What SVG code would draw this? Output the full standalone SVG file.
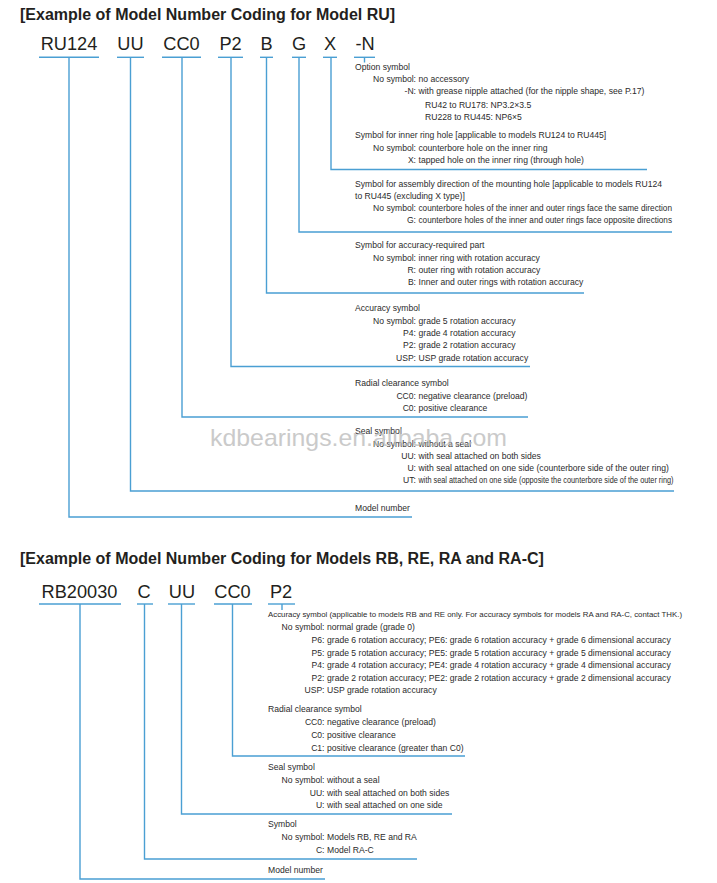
<svg xmlns="http://www.w3.org/2000/svg" width="717" height="883" viewBox="0 0 717 883">
<style>
text{font-family:"Liberation Sans",Arial,Helvetica,sans-serif}
.h{font-size:16px;font-weight:bold;fill:#231f20}
.c{font-size:18.2px;fill:#231f20;text-anchor:middle}
.t{font-size:8.6px;fill:#2b2b2b}
.e{text-anchor:end}
.u{stroke:#4a9fd3;stroke-width:1.4;fill:none}
.ln{stroke:#4a9fd3;stroke-width:1.4;fill:none}
.wm{font-size:24px;fill:#b9b9b9;opacity:0.75}
</style>
<rect width="717" height="883" fill="#ffffff"/>

<!-- ===== Section 1 ===== -->
<text id="title1" class="h" x="20" y="20">[Example of Model Number Coding for Model RU]</text>

<g id="ru-code-model"><text class="c" x="69" y="50">RU124</text><path class="u" d="M39 57.3H99"/></g>
<g id="ru-code-seal"><text class="c" x="130.5" y="50">UU</text><path class="u" d="M117 57.3H144"/></g>
<g id="ru-code-clear"><text class="c" x="181.5" y="50">CC0</text><path class="u" d="M162 57.3H201"/></g>
<g id="ru-code-acc"><text class="c" x="230.5" y="50">P2</text><path class="u" d="M218 57.3H243"/></g>
<g id="ru-code-part"><text class="c" x="266.5" y="50">B</text><path class="u" d="M260 57.3H273"/></g>
<g id="ru-code-dir"><text class="c" x="299" y="50">G</text><path class="u" d="M292 57.3H306"/></g>
<g id="ru-code-hole"><text class="c" x="330" y="50">X</text><path class="u" d="M323 57.3H337"/></g>
<g id="ru-code-opt"><text class="c" x="365" y="50">-N</text><path class="u" d="M354 57.3H375"/></g>

<g id="ru-connectors">
<path class="ln" d="M69 57.3V517H412"/>
<path class="ln" d="M130.5 57.3V491H674"/>
<path class="ln" d="M182 57.3V417H528"/>
<path class="ln" d="M231 57.3V366.5H530"/>
<path class="ln" d="M266.5 57.3V293H584"/>
<path class="ln" d="M299 57.3V232H672"/>
<path class="ln" d="M331 57.3V169.5H647"/>
<path class="ln" d="M364.5 57.3V62.5"/>
</g>

<g id="ru-desc-opt">
<text class="t" x="355" y="70">Option symbol</text>
<text class="t e" x="416" y="82">No symbol:</text><text class="t" x="418.5" y="82">no accessory</text>
<text class="t e" x="416" y="94">-N:</text><text class="t" x="418.5" y="94">with grease nipple attached (for the nipple shape, see P.17)</text>
<text class="t" x="425" y="107.5">RU42 to RU178: NP3.2×3.5</text>
<text class="t" x="425" y="119.5">RU228 to RU445: NP6×5</text>
</g>
<g id="ru-desc-hole">
<text class="t" x="355" y="138">Symbol for inner ring hole [applicable to models RU124 to RU445]</text>
<text class="t e" x="416" y="151">No symbol:</text><text class="t" x="418.5" y="151">counterbore hole on the inner ring</text>
<text class="t e" x="416" y="163">X:</text><text class="t" x="418.5" y="163">tapped hole on the inner ring (through hole)</text>
</g>
<g id="ru-desc-dir">
<text class="t" x="355" y="186.5" textLength="307" lengthAdjust="spacingAndGlyphs">Symbol for assembly direction of the mounting hole [applicable to models RU124</text>
<text class="t" x="355" y="199">to RU445 (excluding X type)]</text>
<text class="t e" x="416" y="211">No symbol:</text><text class="t" x="418.5" y="211" textLength="253.5" lengthAdjust="spacingAndGlyphs">counterbore holes of the inner and outer rings face the same direction</text>
<text class="t e" x="416" y="223">G:</text><text class="t" x="418.5" y="223" textLength="253.5" lengthAdjust="spacingAndGlyphs">counterbore holes of the inner and outer rings face opposite directions</text>
</g>
<g id="ru-desc-part">
<text class="t" x="355" y="248">Symbol for accuracy-required part</text>
<text class="t e" x="416" y="261">No symbol:</text><text class="t" x="418.5" y="261">inner ring with rotation accuracy</text>
<text class="t e" x="416" y="273">R:</text><text class="t" x="418.5" y="273">outer ring with rotation accuracy</text>
<text class="t e" x="416" y="285">B:</text><text class="t" x="418.5" y="285">Inner and outer rings with rotation accuracy</text>
</g>
<g id="ru-desc-acc">
<text class="t" x="355" y="311">Accuracy symbol</text>
<text class="t e" x="416" y="323.5">No symbol:</text><text class="t" x="418.5" y="323.5">grade 5 rotation accuracy</text>
<text class="t e" x="416" y="336">P4:</text><text class="t" x="418.5" y="336">grade 4 rotation accuracy</text>
<text class="t e" x="416" y="348">P2:</text><text class="t" x="418.5" y="348">grade 2 rotation accuracy</text>
<text class="t e" x="416" y="361">USP:</text><text class="t" x="418.5" y="361">USP grade rotation accuracy</text>
</g>
<g id="ru-desc-clear">
<text class="t" x="355" y="386">Radial clearance symbol</text>
<text class="t e" x="416" y="398.5">CC0:</text><text class="t" x="418.5" y="398.5">negative clearance (preload)</text>
<text class="t e" x="416" y="411">C0:</text><text class="t" x="418.5" y="411">positive clearance</text>
</g>
<g id="ru-desc-seal">
<text class="t" x="355" y="434">Seal symbol</text>
<text class="t e" x="416" y="447">No symbol:</text><text class="t" x="418.5" y="447">without a seal</text>
<text class="t e" x="416" y="458.5">UU:</text><text class="t" x="418.5" y="458.5">with seal attached on both sides</text>
<text class="t e" x="416" y="470.5">U:</text><text class="t" x="418.5" y="470.5">with seal attached on one side (counterbore side of the outer ring)</text>
<text class="t e" x="416" y="482.5">UT:</text><text class="t" x="418.5" y="482.5" textLength="255" lengthAdjust="spacingAndGlyphs">with seal attached on one side (opposite the counterbore side of the outer ring)</text>
</g>
<g id="ru-desc-model">
<text class="t" x="355" y="511">Model number</text>
</g>

<text id="watermark" class="wm" x="210" y="446" textLength="297" lengthAdjust="spacingAndGlyphs">kdbearings.en.alibaba.com</text>

<!-- ===== Section 2 ===== -->
<text id="title2" class="h" x="20" y="564">[Example of Model Number Coding for Models RB, RE, RA and RA-C]</text>

<g id="rb-code-model"><text class="c" x="79.5" y="598">RB20030</text><path class="u" d="M39 604H121"/></g>
<g id="rb-code-sym"><text class="c" x="144" y="598">C</text><path class="u" d="M137 604H153"/></g>
<g id="rb-code-seal"><text class="c" x="182" y="598">UU</text><path class="u" d="M168 604H195"/></g>
<g id="rb-code-clear"><text class="c" x="232.5" y="598">CC0</text><path class="u" d="M214 604H252"/></g>
<g id="rb-code-acc"><text class="c" x="281" y="598">P2</text><path class="u" d="M268 604H295"/></g>

<g id="rb-connectors">
<path class="ln" d="M80 604V879H325"/>
<path class="ln" d="M144.5 604V859H417"/>
<path class="ln" d="M181.5 604V814H452"/>
<path class="ln" d="M232.5 604V756H465"/>
<path class="ln" d="M282 604V610"/>
</g>

<g id="rb-desc-acc">
<text class="t" x="268" y="617" style="font-size:7.8px" textLength="414" lengthAdjust="spacingAndGlyphs">Accuracy symbol (applicable to models RB and RE only. For accuracy symbols for models RA and RA-C, contact THK.)</text>
<text class="t e" x="324.5" y="629.5">No symbol:</text><text class="t" x="327" y="629.5">normal grade (grade 0)</text>
<text class="t e" x="324.5" y="643">P6:</text><text class="t" x="327" y="643">grade 6 rotation accuracy; PE6: grade 6 rotation accuracy + grade 6 dimensional accuracy</text>
<text class="t e" x="324.5" y="655.5">P5:</text><text class="t" x="327" y="655.5">grade 5 rotation accuracy; PE5: grade 5 rotation accuracy + grade 5 dimensional accuracy</text>
<text class="t e" x="324.5" y="668">P4:</text><text class="t" x="327" y="668">grade 4 rotation accuracy; PE4: grade 4 rotation accuracy + grade 4 dimensional accuracy</text>
<text class="t e" x="324.5" y="680.5">P2:</text><text class="t" x="327" y="680.5">grade 2 rotation accuracy; PE2: grade 2 rotation accuracy + grade 2 dimensional accuracy</text>
<text class="t e" x="324.5" y="693">USP:</text><text class="t" x="327" y="693">USP grade rotation accuracy</text>
</g>
<g id="rb-desc-clear">
<text class="t" x="268" y="712">Radial clearance symbol</text>
<text class="t e" x="324.5" y="725">CC0:</text><text class="t" x="327" y="725">negative clearance (preload)</text>
<text class="t e" x="324.5" y="738">C0:</text><text class="t" x="327" y="738">positive clearance</text>
<text class="t e" x="324.5" y="750.5">C1:</text><text class="t" x="327" y="750.5">positive clearance (greater than C0)</text>
</g>
<g id="rb-desc-seal">
<text class="t" x="268" y="770">Seal symbol</text>
<text class="t e" x="324.5" y="783">No symbol:</text><text class="t" x="327" y="783">without a seal</text>
<text class="t e" x="324.5" y="795.5">UU:</text><text class="t" x="327" y="795.5">with seal attached on both sides</text>
<text class="t e" x="324.5" y="808">U:</text><text class="t" x="327" y="808">with seal attached on one side</text>
</g>
<g id="rb-desc-sym">
<text class="t" x="268" y="827">Symbol</text>
<text class="t e" x="324.5" y="840">No symbol:</text><text class="t" x="327" y="840">Models RB, RE and RA</text>
<text class="t e" x="324.5" y="853">C:</text><text class="t" x="327" y="853">Model RA-C</text>
</g>
<g id="rb-desc-model">
<text class="t" x="268" y="873">Model number</text>
</g>
</svg>
